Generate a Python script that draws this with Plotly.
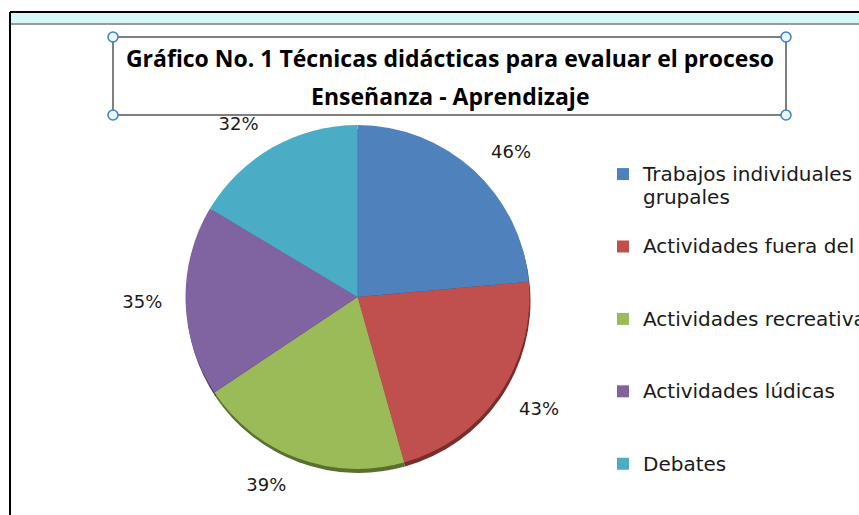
import plotly.graph_objects as go

# ---- data ----
categories = [
    "Trabajos individuales y<br>grupales",
    "Actividades fuera del aula",
    "Actividades recreativas",
    "Actividades lúdicas",
    "Debates",
]
values = [46, 43, 39, 35, 32]
colors = ["#4F81BD", "#C0504D", "#9BBB59", "#8064A2", "#4BACC6"]
shadow_colors = ["#2f4f7a", "#7a2e2c", "#5a7030", "#4d3a66", "#2c6e80"]
title_line1 = "Gráfico No. 1 Técnicas didácticas para evaluar el proceso"
title_line2 = "Enseñanza - Aprendizaje"

W, H = 859, 515
LEG_X = 603  # legend left edge (px); plotly reserves the space right of it

def px(x):
    # paper x spans [0, LEG_X] because the legend reserves the right side
    return x / LEG_X

def py(y):
    return 1 - y / H

# legend entries: bigger glyphs inside, fixed line pitch from legend font size,
# blank lines to reproduce the wide vertical spacing of the original legend
pad = ["<br>&nbsp;", "<br>&nbsp;<br>&nbsp;", "<br>&nbsp;<br>&nbsp;", "<br>&nbsp;<br>&nbsp;", ""]
legend_labels = [
    "<span style='font-size:20px'>" + c.replace("<br>", "</span><br><span style='font-size:20px'>") + "</span>" + p
    for c, p in zip(categories, pad)
]

CX, CY, R = 357.5, 297, 172

def dom(r, dx=0, dy=0):
    return dict(x=[px(CX - r + dx), px(CX + r + dx)], y=[py(CY + r + dy), py(CY - r + dy)])

fig = go.Figure()
# soft shadow under the pie
fig.add_trace(go.Pie(
    labels=legend_labels, values=values, sort=False, direction="clockwise", rotation=0,
    marker=dict(colors=shadow_colors, line=dict(width=0)), textinfo="none",
    domain=dom(R, 1, 4), showlegend=False, hoverinfo="skip",
))
# main pie
fig.add_trace(go.Pie(
    labels=legend_labels, values=values, sort=False, direction="clockwise", rotation=0,
    marker=dict(colors=colors, line=dict(width=0)), textinfo="none",
    domain=dom(R), hoverinfo="value",
))
# transparent ring carrying the data labels a bit outside the pie
fig.add_trace(go.Pie(
    labels=legend_labels, values=values, sort=False, direction="clockwise", rotation=0,
    marker=dict(colors=["rgba(0,0,0,0)"] * len(values), line=dict(width=0)),
    textposition="outside", texttemplate="%{value}%",
    textfont=dict(family="DejaVu Sans", size=18, color="#1a1a1a"),
    domain=dom(R + 18), showlegend=False, hoverinfo="skip",
))

shapes = [
    dict(type="rect", xref="paper", yref="paper", x0=px(10), x1=px(W), y0=py(23), y1=py(12),
         fillcolor="#d9f6f7", line=dict(width=0), layer="below"),
    dict(type="line", xref="paper", yref="paper", x0=px(10), x1=px(W), y0=py(12), y1=py(12),
         line=dict(color="black", width=2)),
    dict(type="line", xref="paper", yref="paper", x0=px(10), x1=px(W), y0=py(24), y1=py(24),
         line=dict(color="#9a9a9a", width=2)),
    dict(type="line", xref="paper", yref="paper", x0=px(10), x1=px(10), y0=py(H), y1=py(12),
         line=dict(color="black", width=2)),
    dict(type="rect", xref="paper", yref="paper", x0=px(113), x1=px(786), y0=py(115), y1=py(37),
         line=dict(color="#7f7f7f", width=2), fillcolor="rgba(0,0,0,0)"),
]
for cx, cy in [(113, 37), (786, 37), (113, 115), (786, 115)]:
    shapes.append(dict(type="circle", xref="paper", yref="paper",
                       x0=px(cx - 5), x1=px(cx + 5), y0=py(cy + 5), y1=py(cy - 5),
                       fillcolor="#e8f6fd", line=dict(color="#3f7fbf", width=1.5)))

title_font = dict(family="Open Sans", size=23, color="black", weight="bold")
fig.update_layout(
    width=W,
    height=H,
    autosize=False,
    margin=dict(l=0, r=0, t=0, b=0),
    paper_bgcolor="white",
    plot_bgcolor="white",
    title=dict(text=title_line1, x=450 / W, xanchor="center", xref="container",
               y=py(59), yanchor="middle", yref="container", font=title_font),
    annotations=[dict(text=title_line2, x=px(450), xref="paper", y=py(96), yref="paper",
                      xanchor="center", yanchor="middle", showarrow=False, font=title_font)],
    showlegend=True,
    legend=dict(xref="container", yref="paper", x=LEG_X / W, xanchor="left",
                y=py(156), yanchor="top", valign="top",
                font=dict(family="DejaVu Sans", size=17.8, color="#1a1a1a"),
                bgcolor="rgba(0,0,0,0)"),
    shapes=shapes,
)

fig.write_html(
    "out.html",
    config={"displayModeBar": False},
    post_script="document.body.style.margin='0';document.body.style.overflow='hidden';"
                "document.documentElement.style.overflow='hidden';",
)
